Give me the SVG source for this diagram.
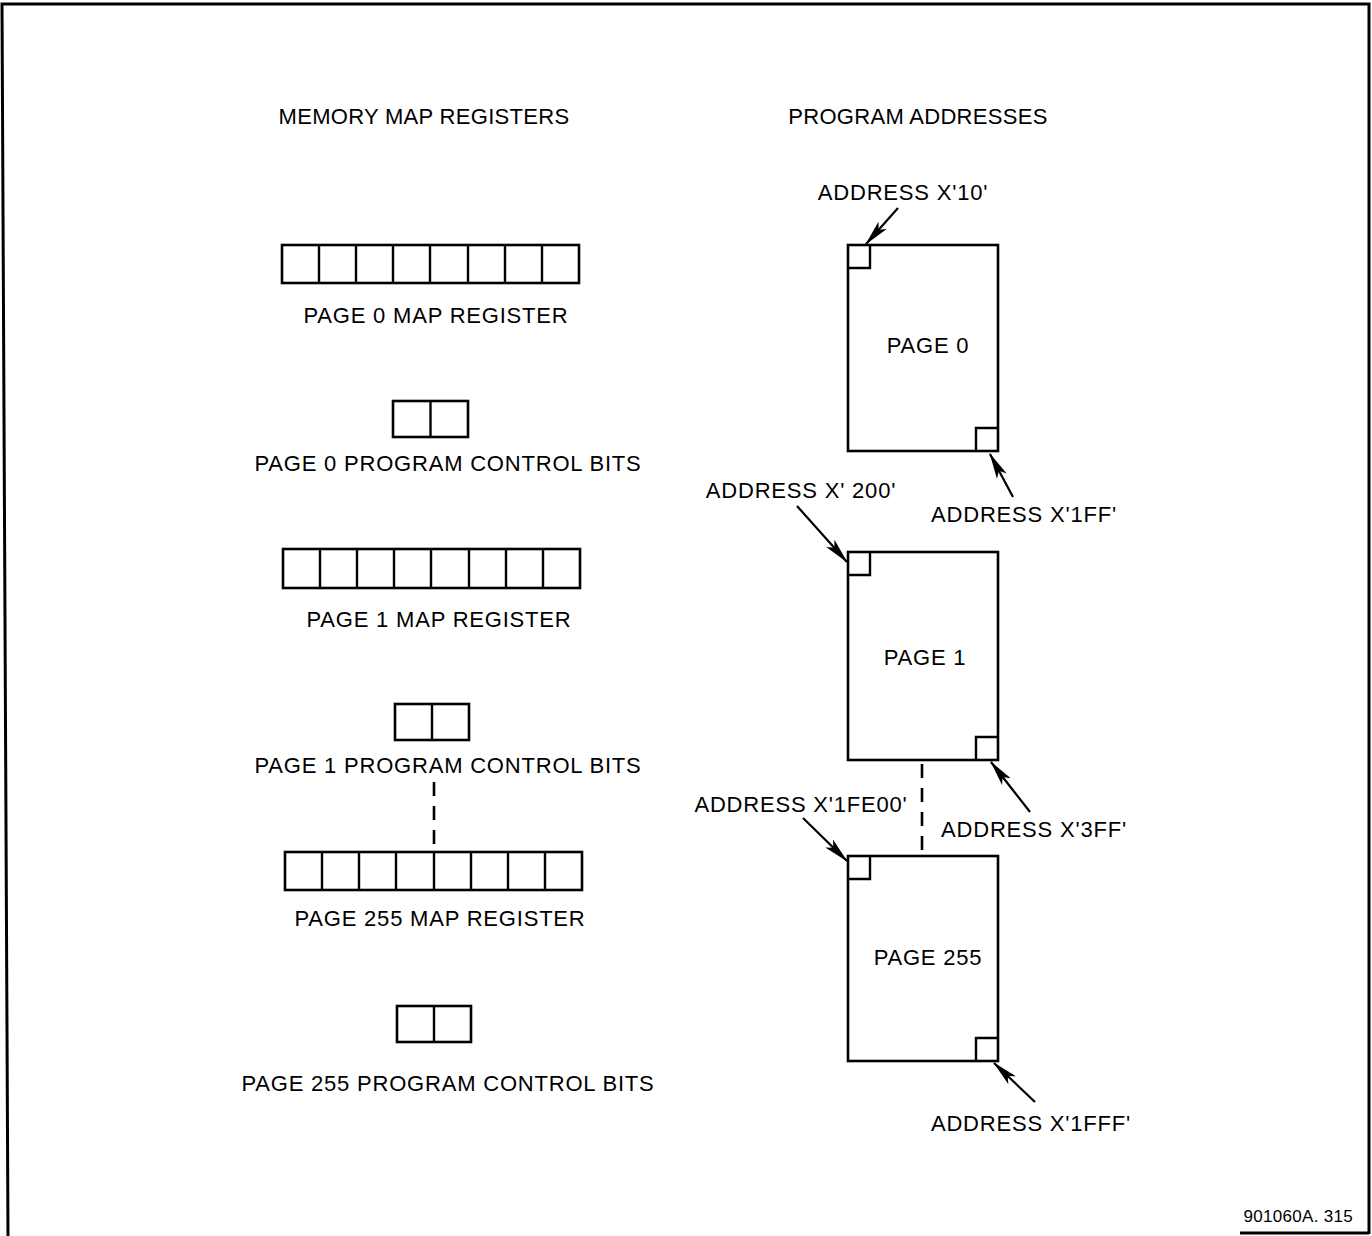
<svg xmlns="http://www.w3.org/2000/svg" width="1372" height="1236" viewBox="0 0 1372 1236">
<defs>
<style>
text{font-family:"Liberation Sans",Arial,sans-serif;font-size:22px;fill:#000;text-anchor:middle;letter-spacing:0.8px}
.hd{letter-spacing:0.3px}
.box{fill:#fff;stroke:#000;stroke-width:2.6}
.cell{fill:none;stroke:#000;stroke-width:2.4}
.arr{stroke:#000;stroke-width:2.2;fill:none;marker-end:url(#ah)}
.dash{stroke:#000;stroke-width:2.6;stroke-dasharray:14,10;fill:none}
.frame{stroke:#000;stroke-width:3;fill:none}
</style>
<marker id="ah" markerUnits="userSpaceOnUse" markerWidth="26" markerHeight="12" viewBox="0 0 26 12" refX="25" refY="6" orient="auto">
<path d="M0,0.5 L26,6 L0,11.5 L6,6 Z" fill="#000"/>
</marker>
</defs>
<g id="frame">
<path class="frame" d="M8,1236 L2,4 L1369,4 L1369,1234"/>
<path class="frame" d="M1240,1233 L1369,1233"/>
</g>
<g id="headings">
<text class="hd" x="424" y="124">MEMORY MAP REGISTERS</text>
<text class="hd" x="918" y="124">PROGRAM ADDRESSES</text>
</g>
<g id="page0-map-register">
<rect class="box" x="282" y="245" width="297" height="38"/>
<path class="cell" d="M319,245V283M356,245V283M393,245V283M430,245V283M468,245V283M505,245V283M542,245V283"/>
<text x="436" y="323">PAGE 0 MAP REGISTER</text>
</g>
<g id="page0-control-bits">
<rect class="box" x="393" y="401" width="75" height="36"/>
<path class="cell" d="M430.5,401V437"/>
<text x="448" y="471">PAGE 0 PROGRAM CONTROL BITS</text>
</g>
<g id="page1-map-register">
<rect class="box" x="283" y="549" width="297" height="39"/>
<path class="cell" d="M320,549V588M357,549V588M394,549V588M431,549V588M469,549V588M506,549V588M543,549V588"/>
<text x="439" y="627">PAGE 1 MAP REGISTER</text>
</g>
<g id="page1-control-bits">
<rect class="box" x="395" y="704" width="74" height="36"/>
<path class="cell" d="M432,704V740"/>
<text x="448" y="773">PAGE 1 PROGRAM CONTROL BITS</text>
</g>
<g id="page255-map-register">
<rect class="box" x="285" y="852" width="297" height="38"/>
<path class="cell" d="M322,852V890M359,852V890M396,852V890M434,852V890M471,852V890M508,852V890M545,852V890"/>
<text x="440" y="926">PAGE 255 MAP REGISTER</text>
</g>
<g id="page255-control-bits">
<rect class="box" x="397" y="1006" width="74" height="36"/>
<path class="cell" d="M434,1006V1042"/>
<text x="448" y="1091">PAGE 255 PROGRAM CONTROL BITS</text>
</g>
<g id="page0">
<rect class="box" x="848" y="245" width="150" height="206"/>
<path class="cell" d="M848,268H870V245M976,451V428H998"/>
<text x="928" y="353">PAGE 0</text>
</g>
<g id="page1">
<rect class="box" x="848" y="552" width="150" height="208"/>
<path class="cell" d="M848,575H870V552M976,760V737H998"/>
<text x="925" y="665">PAGE 1</text>
</g>
<g id="page255">
<rect class="box" x="848" y="856" width="150" height="205"/>
<path class="cell" d="M848,879H870V856M976,1061V1038H998"/>
<text x="928" y="965">PAGE 255</text>
</g>
<g id="labels">
<text x="903" y="200">ADDRESS X'10'</text>
<text x="1024" y="522">ADDRESS X'1FF'</text>
<text x="801" y="498">ADDRESS X' 200'</text>
<text x="1034" y="837">ADDRESS X'3FF'</text>
<text x="801" y="812">ADDRESS X'1FE00'</text>
<text x="1031" y="1131">ADDRESS X'1FFF'</text>
<text x="1353" y="1222" style="font-size:17px;text-anchor:end;letter-spacing:0.3px">901060A. 315</text>
</g>
<g id="connectors">
<path class="arr" d="M898,208L866,244"/>
<path class="arr" d="M1013,497L990,454"/>
<path class="arr" d="M797,506L847,562"/>
<path class="arr" d="M1030,812L991,762"/>
<path class="arr" d="M803,818L847,861"/>
<path class="arr" d="M1035,1102L994,1063"/>
<path class="dash" d="M434,782V848"/>
<path class="dash" d="M922,764V852"/>
</g>
</svg>
